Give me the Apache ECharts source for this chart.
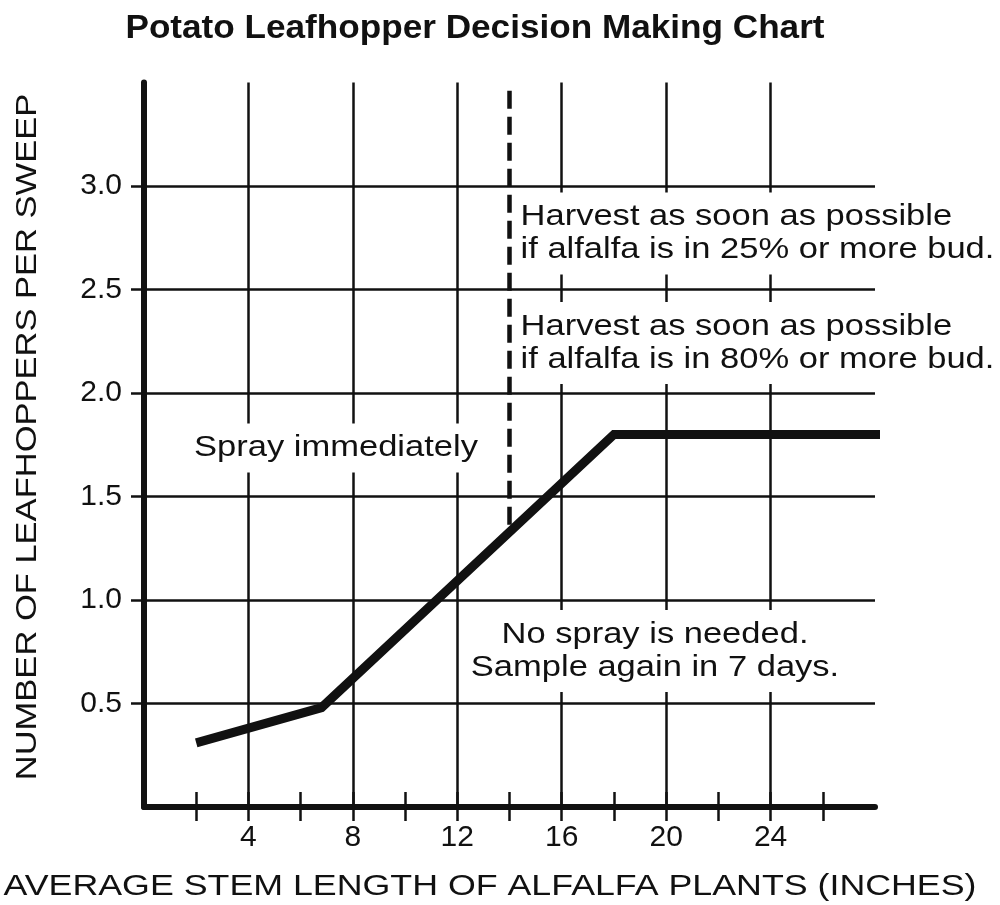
<!DOCTYPE html>
<html>
<head>
<meta charset="utf-8">
<script src="https://cdn.jsdelivr.net/npm/echarts@6/dist/echarts.min.js"></script>
<style>
  html, body { margin: 0; padding: 0; background: #fff; }
  #chart { width: 1000px; height: 905px; }
</style>
</head>
<body>
<div id="chart"></div>
<script>
// stem length (inches) vs threshold leafhoppers per sweep
const stemLength = [2, 6.8, 18, 28.6];
const leafhoppers = [0.31, 0.48, 1.8, 1.8];

// axis ticks / labels / grid
const xTicks = [2, 4, 6, 8, 10, 12, 14, 16, 18, 20, 22, 24, 26];
const xLabels = [4, 8, 12, 16, 20, 24];
const xGrid = [4, 8, 12, 16, 20, 24];
const yTicks = [0.5, 1.0, 1.5, 2.0, 2.5, 3.0];
const yGrid = [0.5, 1.0, 1.5, 2.0, 2.5, 3.0];

// bud stage dashed line: x position and y range
const budX = 14;
const budRange = [1.33, 3.46];

const titleText = 'Potato Leafhopper Decision Making Chart';
const xName = 'AVERAGE STEM LENGTH OF ALFALFA PLANTS (INCHES)';
const yName = 'NUMBER OF LEAFHOPPERS PER SWEEP';
const harvest25 = ['Harvest as soon as possible', 'if alfalfa is in 25% or more bud.'];
const harvest80 = ['Harvest as soon as possible', 'if alfalfa is in 80% or more bud.'];
const sprayText = 'Spray immediately';
const noSpray = ['No spray is needed.', 'Sample again in 7 days.'];

const FONT = "'Liberation Sans', Arial, Helvetica, sans-serif";
const INK = '#111';
const SX = 1.19; // the lettering in the chart is wider than Arial

function txt(text, x, y, align, extra, styleExtra) {
  return Object.assign({
    type: 'text',
    x: x,
    y: y,
    z: 10,
    scaleX: SX,
    silent: true,
    style: Object.assign({
      text: text,
      fontFamily: FONT,
      fontSize: 29,
      fill: INK,
      align: align,
      verticalAlign: 'middle'
    }, styleExtra || {})
  }, extra || {});
}

// white box behind the notes, so the grid stops at the text
const boxed = { backgroundColor: '#fff', padding: [8, 3], lineHeight: 33 };

const chart = echarts.init(document.getElementById('chart'), null, { renderer: 'canvas' });

const gridMarks = [];
yGrid.forEach(v => gridMarks.push({ yAxis: v }));
xGrid.forEach(v => gridMarks.push({ xAxis: v }));
gridMarks.push([
  { coord: [budX, budRange[1]], lineStyle: { type: [18, 8], width: 4.5, color: INK } },
  { coord: [budX, budRange[0]] }
]);

const labelStyle = { color: INK, fontFamily: FONT, fontSize: 30 };

const option = {
  backgroundColor: '#fff',
  animation: false,
  grid: {
    left: 144,
    right: 125,
    top: 82.5,
    bottom: 98,
    containLabel: false,
    outerBoundsMode: 'none'
  },
  xAxis: [{
    type: 'value',
    min: 0,
    max: 28,
    interval: 2,
    axisLine: { show: true, onZero: false, lineStyle: { color: INK, width: 6 } },
    axisTick: { show: true, length: 14, customValues: xTicks, lineStyle: { color: INK, width: 2.5 } },
    axisLabel: Object.assign({ customValues: xLabels, margin: 16 }, labelStyle),
    splitLine: { show: false }
  }, {
    type: 'value',
    position: 'bottom',
    min: 0,
    max: 28,
    interval: 2,
    axisLine: { show: false },
    axisTick: { show: true, inside: true, length: 15, customValues: xTicks, lineStyle: { color: INK, width: 2.5 } },
    axisLabel: { show: false },
    splitLine: { show: false }
  }],
  yAxis: {
    type: 'value',
    min: 0,
    max: 3.5,
    interval: 0.5,
    axisLine: { show: true, onZero: false, lineStyle: { color: INK, width: 6 } },
    axisTick: { show: true, length: 13, customValues: yTicks, lineStyle: { color: INK, width: 2.5 } },
    axisLabel: Object.assign({ customValues: yTicks, formatter: v => v.toFixed(1), margin: 22 }, labelStyle),
    splitLine: { show: false }
  },
  series: [
    {
      // grid lines and the dashed bud-stage line
      type: 'line',
      data: [],
      z: 1,
      silent: true,
      markLine: {
        silent: true,
        symbol: ['none', 'none'],
        label: { show: false },
        lineStyle: { color: INK, width: 2.5, type: 'solid' },
        data: gridMarks
      }
    },
    {
      type: 'line',
      data: stemLength.map((x, i) => [x, leafhoppers[i]]),
      showSymbol: false,
      symbol: 'none',
      clip: false,
      z: 5,
      silent: true,
      lineStyle: { color: INK, width: 9, join: 'miter' }
    }
  ],
  graphic: [
    txt(titleText, 475, 29, 'center', { scaleX: 1.065 }, { fontSize: 33, fontWeight: 'bold' }),
    txt(harvest25.join('\n'), 517, 233.5, 'left', null, boxed),
    txt(harvest80.join('\n'), 517, 343, 'left', null, boxed),
    txt(sprayText, 336, 448, 'center', null, boxed),
    txt(noSpray.join('\n'), 655, 651, 'center', null, boxed),
    txt(xName, 490, 887, 'center', { scaleX: 1.233 }),
    txt(yName, 28, 437, 'center', { rotation: Math.PI / 2 })
  ]
};

chart.setOption(option);
</script>
</body>
</html>
